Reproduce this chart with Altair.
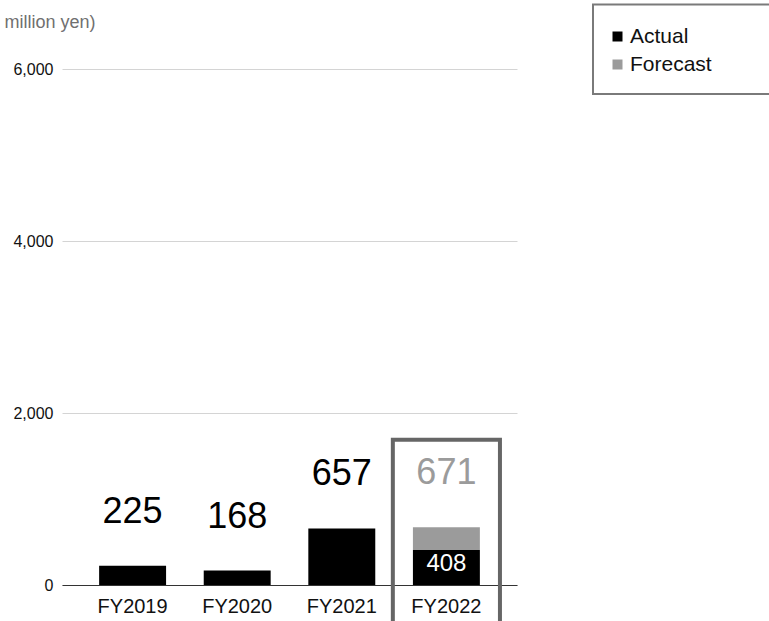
import altair as alt
import pandas as pd

years = ["FY2019", "FY2020", "FY2021", "FY2022"]
actual = [225, 168, 657, 408]
forecast_total = [None, None, None, 671]
series = ["Actual", "Forecast"]
series_colors = ["#000000", "#9b9b9b"]
y_ticks = [0, 2000, 4000, 6000]
highlight_year = "FY2022"
frame_top = 1690

rows = []
for i, (yr, a) in enumerate(zip(years, actual)):
    rows.append({"year": yr, "series": "Actual", "value": a, "order": 0})
    if forecast_total[i] is not None:
        rows.append({"year": yr, "series": "Forecast", "value": forecast_total[i] - a, "order": 1})
bars_df = pd.DataFrame(rows)

totals_df = pd.DataFrame({
    "year": years,
    "total": [ft if ft is not None else a for a, ft in zip(actual, forecast_total)],
})
inner_df = pd.DataFrame({
    "year": [highlight_year],
    "value": [actual[years.index(highlight_year)]],
    "mid": [actual[years.index(highlight_year)] / 2],
})
frame_df = pd.DataFrame({"year": [highlight_year], "top": [frame_top], "bottom": [-2000]})
box_df = pd.DataFrame({"k": [1]})

FONT = "Liberation Sans"

x_enc = alt.X(
    "year:N",
    sort=years,
    scale=alt.Scale(paddingInner=0.36, paddingOuter=0.355),
    axis=alt.Axis(
        title=None, labelAngle=0, labelFontSize=20, labelColor="#111111",
        labelPadding=11, ticks=False, tickSize=0, domainColor="#333333",
        domainWidth=1, labelFont=FONT, labelBaseline="top", grid=False,
    ),
)
y_scale = alt.Scale(domain=[0, 6000], nice=False)

bars = alt.Chart(bars_df).mark_bar().encode(
    x=x_enc,
    y=alt.Y(
        "value:Q", stack="zero", scale=y_scale,
        axis=alt.Axis(
            values=y_ticks, format=",.0f", title="million yen)", titleAngle=0,
            titleAlign="left", titleBaseline="alphabetic", titleX=-58, titleY=-42,
            titleFontSize=18, titleColor="#707070", titleFontWeight="normal",
            titleFont=FONT, labelFont=FONT, labelFontSize=16, labelColor="#111111",
            labelPadding=9, ticks=False, tickSize=0, domain=False,
            gridColor="#d4d4d4", gridWidth=1,
        ),
    ),
    color=alt.Color(
        "series:N",
        scale=alt.Scale(domain=series, range=series_colors),
        legend=alt.Legend(
            title=None, orient="none", legendX=545, legendY=-43, padding=0,
            symbolType="square", symbolSize=100, symbolStrokeWidth=0,
            labelFontSize=21, labelFont=FONT, labelColor="#111111",
            labelOffset=2, rowPadding=6,
        ),
    ),
    order=alt.Order("order:Q"),
)

totals = alt.Chart(totals_df).mark_text(
    fontSize=36, font=FONT, baseline="alphabetic", dy=-43
).encode(
    x=alt.X("year:N", sort=years),
    y=alt.Y("total:Q", scale=y_scale),
    text=alt.Text("total:Q"),
    color=alt.condition(
        alt.datum.year == highlight_year, alt.value("#9b9b9b"), alt.value("#000000")
    ),
)

inner = alt.Chart(inner_df).mark_text(
    fontSize=24, font=FONT, color="white", baseline="middle", dy=-3
).encode(
    x=alt.X("year:N", sort=years),
    y=alt.Y("mid:Q", scale=y_scale),
    text=alt.Text("value:Q"),
)

frame = alt.Chart(frame_df).mark_bar(
    width=alt.RelativeBandSize(1.6), fill="transparent", stroke="#666666", strokeWidth=4
).encode(
    x=alt.X("year:N", sort=years),
    y=alt.Y("top:Q", scale=y_scale),
    y2="bottom:Q",
)

legend_box = alt.Chart(box_df).mark_rect(
    fill="transparent", stroke="#7a7a7a", strokeWidth=2
).encode(
    x=alt.value(531), x2=alt.value(760), y=alt.value(-64.5), y2=alt.value(25)
)

chart = alt.layer(bars, totals, inner, frame, legend_box).properties(
    width=455, height=516,
    padding={"left": 62, "top": 69, "right": 252, "bottom": 36},
    autosize=alt.AutoSizeParams(type="none"),
).configure(
    font=FONT, background="white", view=alt.ViewConfig(stroke="transparent", strokeWidth=0)
).configure_axisX(grid=False)

chart.save("out.html", embed_options={"renderer": "svg", "actions": False})
